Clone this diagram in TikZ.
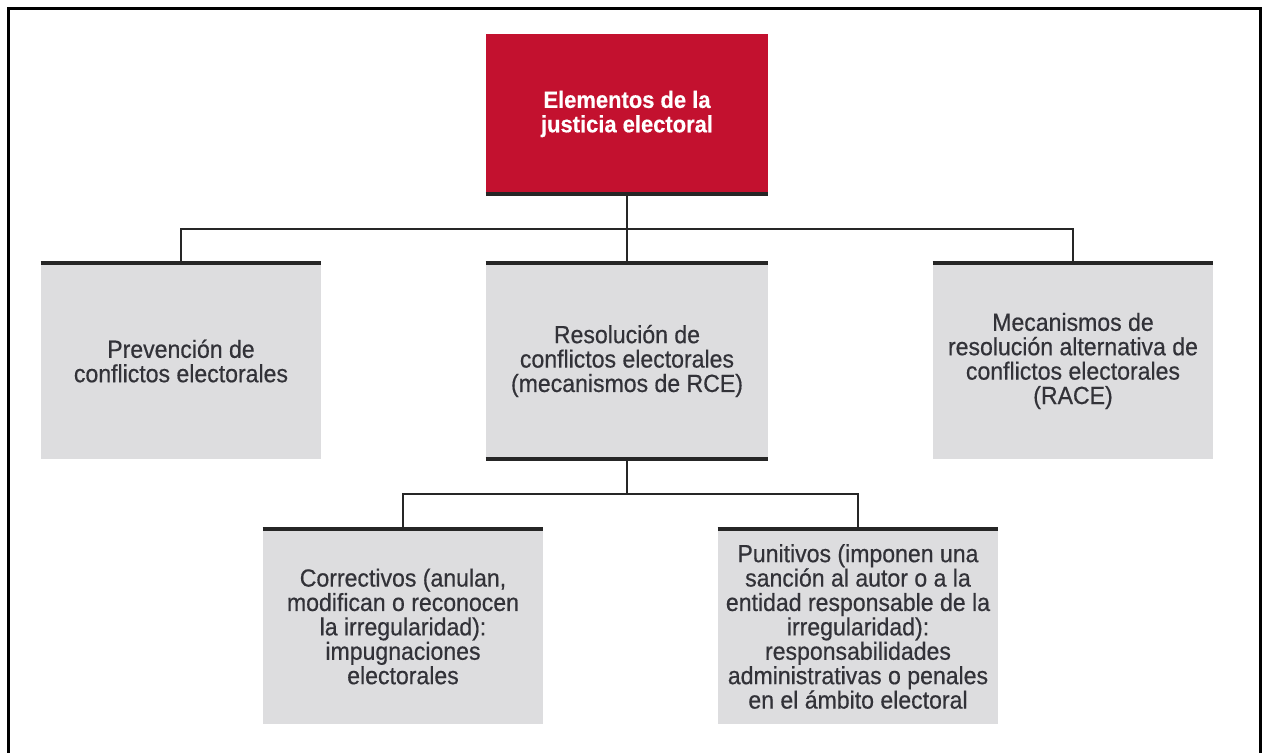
\documentclass[tikz,border=0pt]{standalone}
\usepackage{fontspec}
\setmainfont{Liberation Sans}
\newfontfamily\elefont[FakeStretch=0.93,FakeBold=0.5]{Liberation Sans}
\definecolor{eleRed}{RGB}{195,17,47}
\definecolor{eleGray}{RGB}{221,221,223}
\definecolor{eleText}{RGB}{50,50,56}

\begin{document}
\begin{tikzpicture}[x=0.5pt,y=-0.5pt,
    box/.style={fill=eleGray,text=eleText,align=center,inner sep=0pt,
      minimum width=140pt,minimum height=98pt,font=\elefont\fontsize{12.4}{12.2}\selectfont},
    link/.style={line width=1pt,black!85},
    bar/.style={line width=2pt,black!85}]
    \useasboundingbox (0,0) rectangle (1262,753);
    % outer frame, open at the bottom
    \draw[line width=1.5pt] (8,770) -- (8,9) -- (1260,9) -- (1260,770);
    % boxes
    \node[box,fill=eleRed,text=white,minimum width=141pt,minimum height=80pt,
      font=\elefont\bfseries\fontsize{11.8}{12.2}\selectfont] (top) at (627,114) {Elementos de la\\justicia electoral};
    \node[box] (prev) at (181,361) {Prevención de\\conflictos electorales};
    \node[box,minimum width=141pt] (rce) at (627,361) {Resolución de\\conflictos electorales\\(mecanismos de RCE)};
    \node[box] (race) at (1073,361) {Mecanismos de\\resolución alternativa de\\conflictos electorales\\(RACE)};
    \node[box,minimum height=97.5pt] (corr) at (403,626.5) {Correctivos (anulan,\\modifican o reconocen\\la irregularidad):\\impugnaciones\\electorales};
    \node[box,minimum height=97.5pt] (pun) at (858,626.5) {Punitivos (imponen una\\sanción al autor o a la\\entidad responsable de la\\irregularidad):\\responsabilidades\\administrativas o penales\\en el ámbito electoral};
    % connectors
    \coordinate (j1) at (627,229);
    \coordinate (j2) at (627,494);
    \draw[link] (top.south) -- (j1);
    \draw[link] (prev.north) |- (j1) -| (race.north);
    \draw[link] (j1) -- (rce.north);
    \draw[link] (rce.south) -- (j2);
    \draw[link] (corr.north) |- (j2) -| (pun.north);
    % thick bars
    \draw[bar] (top.south west) -- (top.south east);
    \foreach \b in {prev,rce,race,corr,pun}
      \draw[bar] (\b.north west) -- (\b.north east);
    \draw[bar] (rce.south west) -- (rce.south east);
\end{tikzpicture}
\end{document}
